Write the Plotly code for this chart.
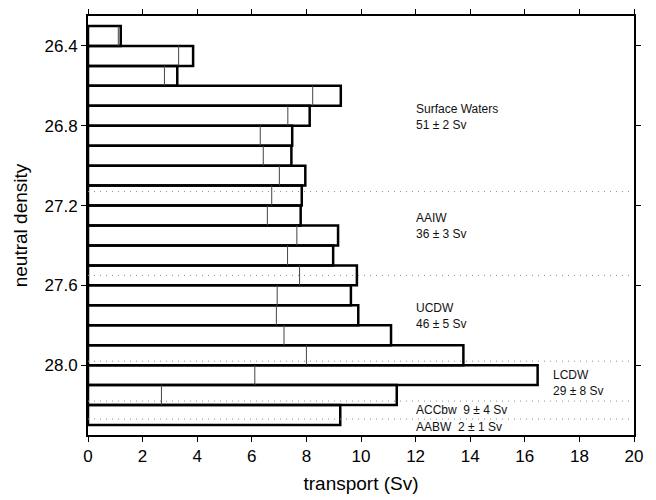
import plotly.graph_objects as go

# Neutral-density layers (bin centres, 0.1 wide)
density_centres = [26.35, 26.45, 26.55, 26.65, 26.75, 26.85, 26.95, 27.05, 27.15, 27.25,
                   27.35, 27.45, 27.55, 27.65, 27.75, 27.85, 27.95, 28.05, 28.15, 28.25]
layer_width = 0.1

# Total transport per layer (Sv)
transport = [1.20, 3.85, 3.27, 9.26, 8.12, 7.48, 7.45, 7.96, 7.83, 7.79,
             9.16, 8.98, 9.85, 9.63, 9.90, 11.10, 13.75, 16.47, 11.31, 9.24]

# Partial transport per layer, shown as a thin line inside each bar (Sv)
partial_transport = [1.11, 3.32, 2.80, 8.23, 7.32, 6.31, 6.42, 7.01, 6.73, 6.57,
                     7.65, 7.31, 7.75, 6.93, 6.90, 7.18, 8.00, 6.11, 2.69, None]

# Water-mass boundaries (neutral density)
water_mass_bounds = [27.13, 27.55, 27.98, 28.18, 28.27]

# Water-mass labels and their placement
mass_labels = ["Surface Waters<br>51 ± 2 Sv", "AAIW<br>36 ± 3 Sv", "UCDW<br>46 ± 5 Sv",
               "LCDW<br>29 ± 8 Sv", "ACCbw\u00a0\u00a09 ± 4 Sv", "AABW\u00a0\u00a02 ± 1 Sv"]
label_x = [11.95, 11.95, 11.95, 16.95, 11.95, 11.95]
label_y = [26.754, 27.30, 27.754, 28.088, 28.224, 28.311]

x_ticks = [0, 2, 4, 6, 8, 10, 12, 14, 16, 18, 20]
y_ticks = [26.4, 26.8, 27.2, 27.6, 28.0]

FONT = "Liberation Sans, Arial, Helvetica, sans-serif"

fig = go.Figure()

# Inner partial-transport lines
seg_x, seg_y = [], []
for c, v in zip(density_centres, partial_transport):
    if v is None:
        continue
    seg_x += [v, v, None]
    seg_y += [c - layer_width / 2, c + layer_width / 2, None]
fig.add_trace(go.Scatter(x=seg_x, y=seg_y, mode="lines",
                         line=dict(color="#444444", width=1),
                         hoverinfo="skip", showlegend=False))

# Outlined transport bars
fig.add_trace(go.Bar(orientation="h", y=density_centres, x=transport, width=layer_width,
                     marker=dict(color="rgba(0,0,0,0)", line=dict(color="black", width=2.5)),
                     showlegend=False))

# Dotted water-mass boundaries
for b in water_mass_bounds:
    fig.add_shape(type="line", xref="paper", x0=0, x1=1, yref="y", y0=b, y1=b,
                  line=dict(color="#8a8a8a", width=1, dash="1px,5px"), layer="above")

for txt, lx, ly in zip(mass_labels, label_x, label_y):
    fig.add_annotation(x=lx, y=ly, text=txt, showarrow=False, xanchor="left",
                       yanchor="middle", align="left",
                       font=dict(family=FONT, size=12, color="#111111"))

axis_common = dict(showline=True, linecolor="black", linewidth=2, mirror="ticks",
                   ticks="outside", ticklen=5, tickwidth=1, tickcolor="black",
                   showgrid=False, zeroline=False,
                   tickfont=dict(family=FONT, size=17, color="black"))

fig.update_layout(
    width=656, height=500,
    margin=dict(l=88, r=22, t=9, b=61),
    paper_bgcolor="white", plot_bgcolor="white",
    barmode="overlay",
    xaxis=dict(range=[0, 20], tickvals=x_ticks, ticktext=[str(t) for t in x_ticks],
               title=dict(text="transport (Sv)", font=dict(family=FONT, size=19, color="black"),
                          standoff=11),
               **axis_common),
    yaxis=dict(range=[28.35, 26.25], tickvals=y_ticks, ticktext=[f"{t:.1f}" for t in y_ticks],
               title=dict(text="neutral density", font=dict(family=FONT, size=19, color="black"),
                          standoff=12),
               **axis_common),
)

fig.write_html("out.html")
